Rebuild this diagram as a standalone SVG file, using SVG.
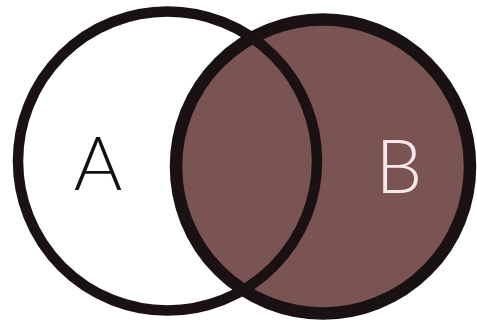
<svg xmlns="http://www.w3.org/2000/svg" width="477" height="322" viewBox="0 0 477 322">
<style>
.ring{fill:none;stroke:#1a1212;}
.lbl{font-family:Lato,"Liberation Sans",sans-serif;font-weight:300;font-size:74px;text-anchor:middle;}
</style>
<rect width="477" height="322" fill="#ffffff"/>
<g id="A-fill"><circle cx="167.5" cy="161" r="149.5" fill="#ffffff"/></g>
<g id="B">
<circle cx="323" cy="166.5" r="147" class="ring" style="fill:#7a5353" stroke-width="12.5"/>
<text class="lbl" x="399" y="193" fill="#f8e8ea">B</text>
</g>
<g id="A">
<circle class="ring" cx="167.5" cy="161" r="149.5" stroke-width="10.5"/>
<text class="lbl" x="98" y="190" fill="#111111">A</text>
</g>
</svg>
